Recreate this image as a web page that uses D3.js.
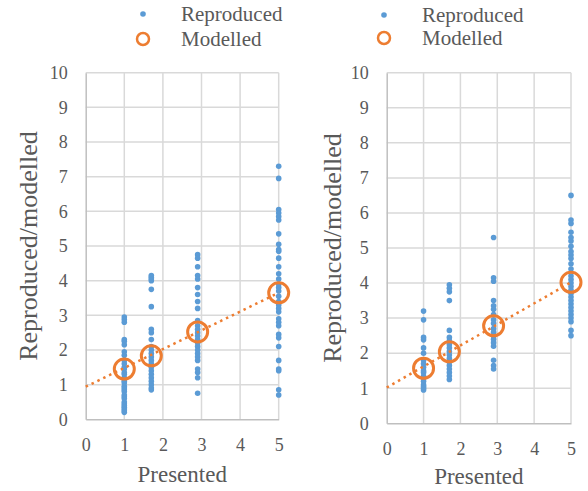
<!DOCTYPE html>
<html>
  <head>
    <meta charset="utf-8">
    <title>Reproduced vs modelled</title>
    <script src="https://d3js.org/d3.v7.min.js"></script>
    <style>
      body { margin: 0; background: #fff; }
      text { font-family: "Liberation Serif", "Times New Roman", serif; fill: #595959; }
    </style>
  </head>
  <body>
    <svg id="chart" width="588" height="491"></svg>
  </body>
  <script type="text/javascript">
    // presented levels (x positions of the dot columns)
    var presented = [1, 1.7, 2.9, 5];
    var xTicks = [0, 1, 2, 3, 4, 5];
    var yTicks = [0, 1, 2, 3, 4, 5, 6, 7, 8, 9, 10];

    // left panel, one list of reproduced values per presented level
    var leftReproduced = [
      [2.95, 2.88, 2.8, 2.3, 2.25, 2.15, 1.95, 1.85, 1.7, 1.6, 1.5, 1.45, 1.35, 1.3, 1.2, 1.1, 1.05, 0.95, 0.9, 0.85, 0.8, 0.7, 0.65, 0.6, 0.5, 0.45, 0.4, 0.35, 0.3, 0.25, 0.2],
      [4.15, 4.1, 4.05, 4.0, 3.75, 3.25, 2.6, 2.5, 2.3, 2.1, 2.0, 1.9, 1.8, 1.7, 1.6, 1.5, 1.4, 1.3, 1.2, 1.1, 1.0, 0.9, 0.85],
      [4.75, 4.65, 4.4, 4.15, 4.05, 3.8, 3.6, 3.4, 3.2, 2.85, 2.7, 2.6, 2.5, 2.4, 2.3, 2.2, 2.1, 2.0, 1.9, 1.8, 1.7, 1.45, 1.35, 1.2, 0.75],
      [7.3, 6.95, 6.05, 5.95, 5.85, 5.75, 5.35, 5.05, 4.9, 4.85, 4.65, 4.4, 4.2, 4.05, 3.9, 3.8, 3.7, 3.55, 3.4, 3.3, 3.2, 3.1, 2.9, 2.8, 2.7, 2.45, 2.35, 2.1, 1.7, 1.45, 1.4, 0.85, 0.7]
    ];
    var leftModelled = [1.45, 1.83, 2.52, 3.65];
    var leftTrend = [[0, 0.94], [5, 3.65]];

    // right panel
    var rightReproduced = [
      [3.2, 2.95, 2.45, 2.38, 2.15, 2.0, 1.8, 1.7, 1.6, 1.5, 1.45, 1.35, 1.3, 1.2, 1.1, 1.05, 1.0, 0.95],
      [3.95, 3.85, 3.75, 3.5, 2.65, 2.45, 2.35, 2.25, 2.15, 2.05, 1.95, 1.85, 1.75, 1.65, 1.55, 1.45, 1.35, 1.25],
      [5.3, 4.15, 4.05, 3.5, 3.35, 3.25, 3.1, 2.95, 2.85, 2.7, 2.6, 2.5, 2.4, 2.3, 2.2, 1.8, 1.65, 1.55],
      [6.5, 5.8, 5.7, 5.45, 5.3, 5.2, 5.05, 4.9, 4.8, 4.7, 4.55, 4.4, 4.2, 4.1, 4.0, 3.9, 3.8, 3.7, 3.6, 3.5, 3.4, 3.3, 3.2, 3.1, 3.0, 2.9, 2.65, 2.5]
    ];
    var rightModelled = [1.57, 2.04, 2.78, 4.02];
    var rightTrend = [[0, 1.02], [5, 4.02]];

    var legendLabels = ["Reproduced", "Modelled"];
    var blue = "#5b9bd5", orange = "#ed7d31";
    var serif = "'Liberation Serif', 'Times New Roman', serif";

    var svg = d3.select("#chart");

    function drawPanel(p) {
      var x = d3.scaleLinear().domain([0, 5]).range([p.left, p.right]);
      var y = d3.scaleLinear().domain([0, 10]).range([p.bottom, p.top]);
      var g = svg.append("g");

      // grid
      g.selectAll("line.vgrid").data(xTicks.slice(1)).enter().append("line")
        .attr("x1", function(d){ return x(d); }).attr("x2", function(d){ return x(d); })
        .attr("y1", y(0)).attr("y2", y(10))
        .attr("stroke", "#d9d9d9").attr("stroke-width", 1.5);
      g.selectAll("line.hgrid").data(yTicks.slice(1)).enter().append("line")
        .attr("y1", function(d){ return y(d); }).attr("y2", function(d){ return y(d); })
        .attr("x1", x(0)).attr("x2", x(5))
        .attr("stroke", "#d9d9d9").attr("stroke-width", 1.5);

      // axes
      var xAxis = g.append("g").attr("transform", "translate(0," + y(0) + ")")
        .call(d3.axisBottom(x).tickValues(xTicks).tickFormat(d3.format("d")).tickSize(0).tickPadding(19));
      var yAxis = g.append("g").attr("transform", "translate(" + x(0) + ",0)")
        .call(d3.axisLeft(y).tickValues(yTicks).tickFormat(d3.format("d")).tickSize(0).tickPadding(18));
      [xAxis, yAxis].forEach(function(a){
        a.attr("font-family", serif).attr("font-size", 18);
        a.select(".domain").attr("stroke", "#bfbfbf").attr("stroke-width", 1.5);
        a.selectAll("text").style("font-family", serif).style("font-size", "18px");
      });

      // reproduced dots
      var pts = [];
      p.reproduced.forEach(function(col, i){
        col.forEach(function(v){ pts.push([presented[i], v]); });
      });
      g.selectAll("circle.rep").data(pts).enter().append("circle")
        .attr("cx", function(d){ return x(d[0]); })
        .attr("cy", function(d){ return y(d[1]); })
        .attr("r", 2.8).attr("fill", blue);

      // trend line
      g.append("path").datum(p.trend)
        .attr("d", d3.line().x(function(d){ return x(d[0]); }).y(function(d){ return y(d[1]); }))
        .attr("fill", "none").attr("stroke", orange).attr("stroke-width", 2.5)
        .attr("stroke-dasharray", "2.5,4");

      // modelled circles
      g.selectAll("circle.mod").data(p.modelled).enter().append("circle")
        .attr("cx", function(d, i){ return x(presented[i]); })
        .attr("cy", function(d){ return y(d); })
        .attr("r", 10).attr("fill", "none").attr("stroke", orange).attr("stroke-width", 3);

      // axis titles
      g.append("text").attr("x", (x(0) + x(5)) / 2).attr("y", p.xTitleY)
        .attr("text-anchor", "middle").style("font-size", "23px").text("Presented");
      g.append("text")
        .attr("transform", "translate(" + p.yTitleX + "," + (y(0) + y(10)) / 2 + ") rotate(-90)")
        .attr("text-anchor", "middle").attr("dominant-baseline", "central")
        .style("font-size", "26px").text("Reproduced/modelled");

      // legend
      var lg = g.append("g");
      lg.append("circle").attr("cx", p.legX).attr("cy", p.legY[0]).attr("r", 2.8).attr("fill", blue);
      lg.append("circle").attr("cx", p.legX).attr("cy", p.legY[1]).attr("r", 6)
        .attr("fill", "none").attr("stroke", orange).attr("stroke-width", 2.5);
      lg.selectAll("text").data(legendLabels).enter().append("text")
        .attr("x", p.legX + 38).attr("y", function(d, i){ return p.legY[i]; })
        .attr("dominant-baseline", "central").style("font-size", "21px")
        .text(function(d){ return d; });
    }

    drawPanel({ left: 85.7, right: 278.7, top: 72.7, bottom: 419.3,
      xTitleY: 482, yTitleX: 28, legX: 143, legY: [14, 39],
      reproduced: leftReproduced, modelled: leftModelled, trend: leftTrend });
    drawPanel({ left: 386.7, right: 571, top: 72.7, bottom: 423.3,
      xTitleY: 484, yTitleX: 332, legX: 384, legY: [15, 38],
      reproduced: rightReproduced, modelled: rightModelled, trend: rightTrend });
  </script>
</html>
